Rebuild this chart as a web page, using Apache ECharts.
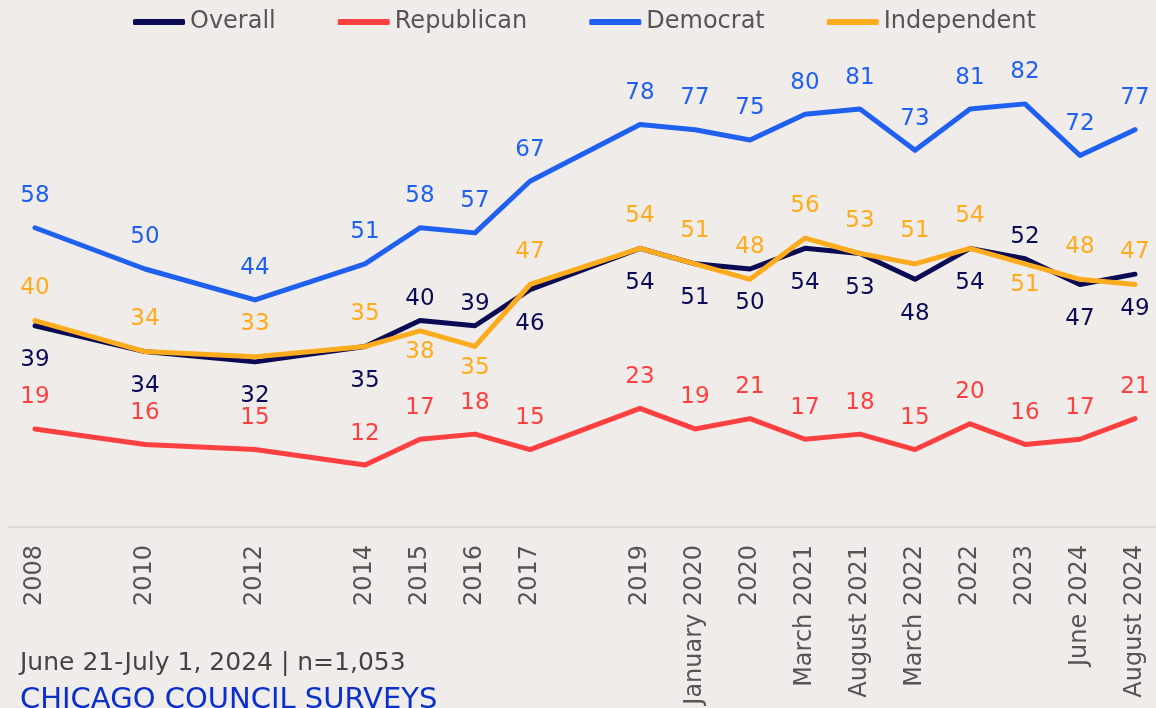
<!DOCTYPE html>
<html>
<head>
<meta charset="utf-8">
<script src="https://cdn.jsdelivr.net/npm/echarts@6/dist/echarts.min.js"></script>
<style>
  html, body { margin: 0; padding: 0; background: #f0ece9; }
  #main { width: 1156px; height: 708px; }
</style>
</head>
<body>
<div id="main"></div>
<script>
// '' marks the empty years (2009, 2011, 2013, 2018) so spacing follows time
var categories = ['2008', '', '2010', '', '2012', '', '2014', '2015', '2016', '2017', '', '2019',
    'January 2020', '2020', 'March 2021', 'August 2021', 'March 2022', '2022', '2023', 'June 2024', 'August 2024'];
var overall     = [39, null, 34, null, 32, null, 35, 40, 39, 46, null, 54, 51, 50, 54, 53, 48, 54, 52, 47, 49];
var republican  = [19, null, 16, null, 15, null, 12, 17, 18, 15, null, 23, 19, 21, 17, 18, 15, 20, 16, 17, 21];
var democrat    = [58, null, 50, null, 44, null, 51, 58, 57, 67, null, 78, 77, 75, 80, 81, 73, 81, 82, 72, 77];
var independent = [40, null, 34, null, 33, null, 35, 38, 35, 47, null, 54, 51, 48, 56, 53, 51, 54, 51, 48, 47];

// points where overall label sits above and independent below
var swapped = ['2015', '2016', '2023'];

var FONT = '"DejaVu Sans"';
var chart = echarts.init(document.getElementById('main'));

function points(vals, normalPos, normalDist, swapDist) {
    return vals.map(function (v, i) {
        if (v == null) return null;
        var swap = swapDist != null && swapped.indexOf(categories[i]) >= 0;
        var pos = swap ? (normalPos == 'top' ? 'bottom' : 'top') : normalPos;
        return { value: v, label: { position: pos, distance: swap ? swapDist : normalDist } };
    });
}

function makeSeries(name, color, data) {
    return {
        name: name,
        type: 'line',
        data: data,
        connectNulls: true,
        symbol: 'circle',
        symbolSize: 0,
        itemStyle: { color: color },
        lineStyle: { color: color, width: 5, cap: 'round', join: 'round' },
        label: {
            show: true,
            position: 'top',
            color: color,
            fontFamily: FONT,
            fontSize: 23
        },
        emphasis: { disabled: true },
        animation: false
    };
}

var option = {
    backgroundColor: '#f0ece9',
    legend: {
        top: 5,
        left: 128,
        itemWidth: 52,
        itemHeight: 6,
        itemGap: 62,
        icon: 'roundRect',
        textStyle: { color: '#555', fontFamily: FONT, fontSize: 24 },
        data: ['Overall', 'Republican', 'Democrat', 'Independent']
    },
    grid: { left: 35, right: 21, top: 11, bottom: 181 },
    xAxis: {
        type: 'category',
        data: categories,
        boundaryGap: false,
        axisLine: { show: false },
        axisTick: { show: false },
        axisLabel: {
            interval: 0,
            rotate: 90,
            margin: 18,
            color: '#555',
            fontFamily: FONT,
            fontSize: 24
        }
    },
    yAxis: { type: 'value', min: 0, max: 100, show: false },
    graphic: [
        { type: 'rect', shape: { x: 8, y: 526, width: 1148, height: 2 }, style: { fill: '#dcd8d5' } },
        { type: 'text', left: 20, top: 651, style: { text: 'June 21-July 1, 2024 | n=1,053', fill: '#444', font: '25px ' + FONT } },
        { type: 'text', left: 20, top: 686, style: { text: 'CHICAGO COUNCIL SURVEYS', fill: '#0a30cc', font: '29px ' + FONT } }
    ],
    series: [
        makeSeries('Overall', '#0b0b55', points(overall, 'bottom', 23, 10)),
        makeSeries('Republican', '#ff4040', points(republican, 'top', 20)),
        makeSeries('Democrat', '#1f60f0', points(democrat, 'top', 20)),
        makeSeries('Independent', '#ffab1e', points(independent, 'top', 21, 10))
    ]
};
chart.setOption(option);
</script>
</body>
</html>
